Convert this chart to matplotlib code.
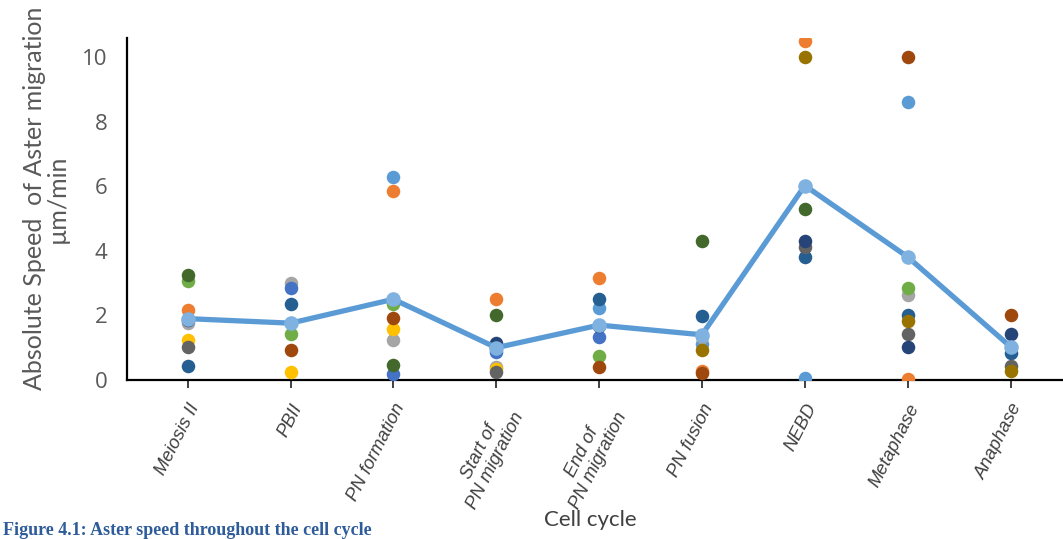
import numpy as np
import matplotlib
matplotlib.use("Agg")
import matplotlib.pyplot as plt

nan = np.nan
categories = ["Meiosis II", "PBII", "PN formation", "Start of\nPN migration",
              "End of\nPN migration", "PN fusion", "NEBD", "Metaphase", "Anaphase"]

# individual embryos (one colour each), values in µm/min
emb01 = [nan, nan, 6.29, nan, 2.24, 1.11, 0.05, 8.60, nan]
emb02 = [2.17, nan, 5.86, 2.51, 3.15, 0.29, 10.50, 0.03, nan]
emb03 = [1.77, 3.01, 1.24, 0.41, nan, 1.34, nan, 2.63, nan]
emb04 = [1.24, 0.26, 1.58, 0.33, nan, nan, nan, nan, nan]
emb05 = [nan, 2.84, 0.19, 0.88, 1.32, nan, nan, nan, nan]
emb06 = [3.08, 1.42, 2.34, nan, 0.75, nan, nan, 2.84, nan]
emb07 = [0.43, 2.34, nan, nan, 2.50, 1.99, 3.80, 2.01, 0.85]
emb08 = [nan, 0.93, 1.91, 1.03, 0.41, 0.21, nan, 10.01, 2.00]
emb09 = [1.02, nan, nan, 0.26, nan, nan, 4.13, 1.42, 0.44]
emb10 = [nan, nan, nan, nan, nan, 0.93, 9.99, 1.84, 0.28]
emb11 = [1.85, nan, nan, 1.14, 1.68, nan, 4.30, 1.01, 1.42]
emb12 = [3.25, nan, 0.46, 2.01, nan, 4.30, 5.29, nan, nan]
mean_speed = [1.90, 1.76, 2.50, 1.00, 1.70, 1.40, 6.02, 3.81, 1.03]

series = [emb01, emb02, emb03, emb04, emb05, emb06, emb07, emb08, emb09, emb10, emb11, emb12]
colors = ["#5B9BD5", "#ED7D31", "#A5A5A5", "#FFC000", "#4472C4", "#70AD47",
          "#255E91", "#9E480E", "#636363", "#997300", "#264478", "#43682B"]

fig = plt.figure(figsize=(10.63, 5.39), dpi=100)
ax = fig.add_axes([0.1195, 0.295, 0.8805, 0.6345])
x = np.arange(len(categories))

for vals, c in zip(series, colors):
    ax.scatter(x, vals, s=95, color=c, zorder=3, linewidths=0)

ax.plot(x, mean_speed, color="#5B9BD5", lw=3.8, zorder=4, solid_capstyle="round")
ax.scatter(x, mean_speed, s=110, color="#7FB2E0", zorder=5, linewidths=0)

ax.set_xlim(-0.59, 8.51)
ax.set_ylim(0, 10.59)
ax.set_yticks([0, 2, 4, 6, 8, 10])
for s in ["top", "right"]:
    ax.spines[s].set_visible(False)
ax.spines["left"].set_linewidth(1.6)
ax.spines["bottom"].set_linewidth(1.6)
ax.tick_params(axis="y", length=0, labelsize=16, labelcolor="#595959", pad=14)
ax.tick_params(axis="x", length=6, width=1.4, direction="out", color="#404040")
for lab in ax.get_yticklabels():
    lab.set_family("Open Sans")

ax.set_xticks(x)
ax.set_xticklabels(categories, rotation=63, ha="right", va="top",
                   rotation_mode="anchor", fontsize=13.2, style="italic",
                   color="#404040", family="Liberation Sans", multialignment="center",
                   linespacing=1.1)
for lab in ax.get_xticklabels():
    lab.set_y(-0.022)

fig.text(0.043, 0.632, "Absolute Speed  of Aster migration\nµm/min", rotation=90,
         ha="center", va="center", fontsize=18, color="#595959", family="Lato",
         linespacing=1.0)
fig.text(0.555, 0.035, "Cell cycle", ha="center", va="center", fontsize=16,
         color="#404040", family="Lato")
fig.text(0.003, 0.0, "Figure 4.1: Aster speed throughout the cell cycle",
         ha="left", va="bottom", fontsize=13, color="#2E5C9A",
         family="Liberation Serif", weight="bold")

fig.savefig("out.png", dpi=100)
